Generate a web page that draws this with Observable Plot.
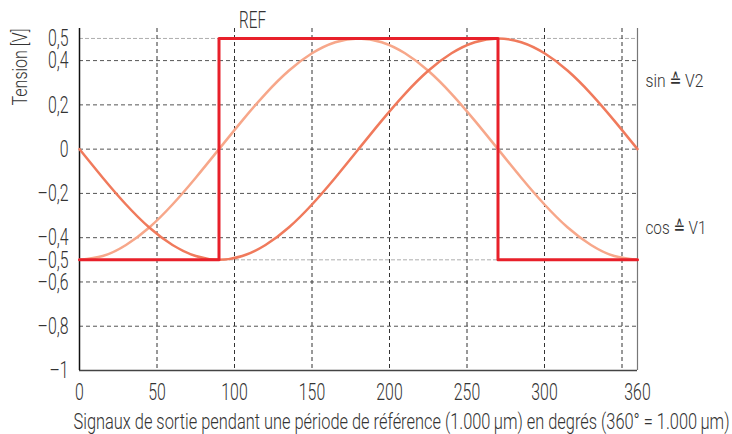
<!DOCTYPE html>
<html><head><meta charset="utf-8">
<script src="https://cdn.jsdelivr.net/npm/d3@7"></script>
<script src="https://cdn.jsdelivr.net/npm/@observablehq/plot@0.6"></script>
<style>
body{margin:0;background:#fff}
svg{font-family:Roboto,"DejaVu Sans Condensed",sans-serif;font-weight:300}
</style>
</head><body><div id="chart"></div>
<script>
const degrees = [0,15,30,45,60,75,90,105,120,135,150,165,180,195,210,225,240,255,270,285,300,315,330,345,360];
const sinValues = [0,-0.129,-0.25,-0.354,-0.433,-0.483,-0.5,-0.483,-0.433,-0.354,-0.25,-0.129,0,0.129,0.25,0.354,0.433,0.483,0.5,0.483,0.433,0.354,0.25,0.129,0];
const cosValues = [-0.5,-0.483,-0.433,-0.354,-0.25,-0.129,0,0.129,0.25,0.354,0.433,0.483,0.5,0.483,0.433,0.354,0.25,0.129,0,-0.129,-0.25,-0.354,-0.433,-0.483,-0.5];
const refDegrees = [0,90,90,270,270,360];
const refValues = [-0.5,-0.5,0.5,0.5,-0.5,-0.5];
const xTicks = [0,50,100,150,200,250,300,360];
const xGrid = [50,100,150,200,250,300,350];
const yTicks = [0.5,0.4,0.2,0,-0.2,-0.4,-0.5,-0.6,-0.8,-1];
const yGridDark = [0.4,0.2,0,-0.2,-0.4,-0.6,-0.8];
const yGridLight = [0.5,-0.5];
const curveLabels = [{x:360,y:0.309,text:"sin ≙ V2"},{x:360,y:-0.355,text:"cos ≙ V1"}];
const refLabel = [{x:90,y:0.5,text:"REF"}];
const xTitle = "Signaux de sortie pendant une période de référence (1.000\u2009µm) en degrés (360° = 1.000\u2009µm)";
const yTitle = "Tension [V]";

const sinData = degrees.map((d,i)=>({x:d,y:sinValues[i]}));
const cosData = degrees.map((d,i)=>({x:d,y:cosValues[i]}));
const refData = refDegrees.map((d,i)=>({x:d,y:refValues[i]}));
const fmt = d => String(d).replace(".", ",").replace("-", "\u2013");

const plot = Plot.plot({
  width: 732, height: 434,
  marginLeft: 79, marginRight: 95, marginTop: 28, marginBottom: 64,
  x: {domain: [0, 360]},
  y: {domain: [-1, 0.545]},
  style: {fontSize: "24px", color: "#333", background: "#fff"},
  marks: [
    Plot.ruleY(yGridDark, {stroke: "#555", strokeDasharray: "4,3", strokeWidth: 1}),
    Plot.ruleY(yGridLight, {stroke: "#999", strokeDasharray: "4,2", strokeWidth: 0.8}),
    Plot.ruleX(xGrid, {stroke: "#333", strokeDasharray: "4,3", strokeWidth: 1}),
    Plot.axisX(xTicks, {tickSize: 0, tickPadding: 12, label: null, fontSize: 24}),
    Plot.axisY(yTicks, {tickSize: 0, tickPadding: 11, label: null, tickFormat: fmt, fontSize: 24}),
    Plot.ruleY([-1], {stroke: "#444", strokeWidth: 1.5}),
    Plot.ruleX([0], {stroke: "#111", strokeWidth: 1.5}),
    Plot.ruleX([360], {stroke: "#777", strokeWidth: 1.2}),
    Plot.line(cosData, {x: "x", y: "y", stroke: "#f7a78a", strokeWidth: 2.5, curve: "natural"}),
    Plot.line(sinData, {x: "x", y: "y", stroke: "#f07a5c", strokeWidth: 2.5, curve: "natural"}),
    Plot.line(refData, {x: "x", y: "y", stroke: "#e8202a", strokeWidth: 3}),
    Plot.text(refLabel, {x: "x", y: "y", text: "text", dx: 20, dy: -18, textAnchor: "start", fontSize: 24, fill: "#333"}),
    Plot.text(curveLabels, {x: "x", y: "y", text: "text", dx: 8, textAnchor: "start", fontSize: 19, fill: "#333"}),
    Plot.text([xTitle], {frameAnchor: "bottom", lineAnchor: "middle", dx: 43, dy: 51, fontSize: 22, fill: "#333"}),
    Plot.text([yTitle], {frameAnchor: "top-left", dx: -67, rotate: -90, textAnchor: "end", fontSize: 21, fill: "#333"})
  ]
});
document.getElementById("chart").append(plot);
const targets = {"sin ≙ V2": 58, "cos ≙ V1": 61, "REF": 27, [xTitle]: 656, [yTitle]: 77};
plot.querySelectorAll("text").forEach(t => {
  const L = t.getComputedTextLength();
  if (L <= 0) return;
  const target = targets[t.textContent] ?? L * 0.66;
  t.setAttribute("textLength", target);
  t.setAttribute("lengthAdjust", "spacingAndGlyphs");
});
</script>
</body></html>
